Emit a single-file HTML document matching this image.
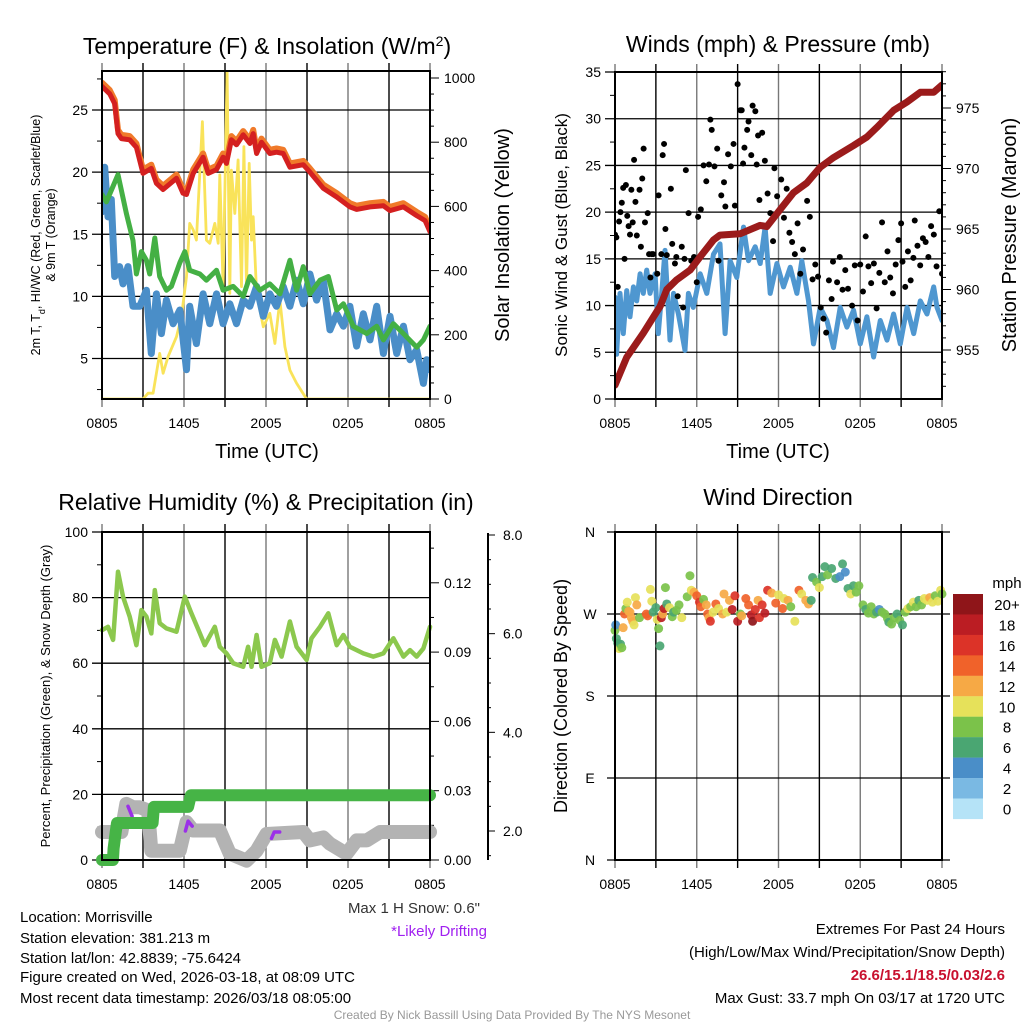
<!DOCTYPE html>
<html><head><meta charset="utf-8">
<style>
html,body{margin:0;padding:0;background:#fff;}
svg{display:block;font-family:"Liberation Sans",Arial,sans-serif;}
</style></head>
<body>
<svg id="c" width="1024" height="1024" viewBox="0 0 1024 1024" xmlns="http://www.w3.org/2000/svg">
<text x="267" y="54" font-size="23" text-anchor="middle">Temperature (F) &amp; Insolation (W/m<tspan baseline-shift="super" font-size="14">2</tspan>)</text>
<text x="778" y="52" font-size="23" text-anchor="middle">Winds (mph) &amp; Pressure (mb)</text>
<text x="266" y="510" font-size="23" text-anchor="middle">Relative Humidity (%) &amp; Precipitation (in)</text>
<text x="778" y="505" font-size="23" text-anchor="middle">Wind Direction</text>

<text transform="translate(40,235) rotate(-90)" font-size="12.5" text-anchor="middle">2m T, T<tspan baseline-shift="sub" font-size="9">d</tspan>, HI/WC (Red, Green, Scarlet/Blue)</text>
<text transform="translate(55,235) rotate(-90)" font-size="12.5" text-anchor="middle">&amp; 9m T (Orange)</text>
<text transform="translate(509,235) rotate(-90)" font-size="20" text-anchor="middle">Solar Insolation (Yellow)</text>
<text x="267" y="458" font-size="20" text-anchor="middle">Time (UTC)</text>

<text transform="translate(567,235) rotate(-90)" font-size="17" text-anchor="middle">Sonic Wind &amp; Gust (Blue, Black)</text>
<text transform="translate(1016,235) rotate(-90)" font-size="20" text-anchor="middle">Station Pressure (Maroon)</text>
<text x="778" y="458" font-size="20" text-anchor="middle">Time (UTC)</text>

<text transform="translate(50,696) rotate(-90)" font-size="13" text-anchor="middle">Percent, Precipitation (Green), &amp; Snow Depth (Gray)</text>
<text x="480" y="913" font-size="15" text-anchor="end" fill="#333">Max 1 H Snow: 0.6"</text>
<text x="487" y="936" font-size="15" text-anchor="end" fill="#a020f0">*Likely Drifting</text>

<text transform="translate(567,696) rotate(-90)" font-size="18" text-anchor="middle">Direction (Colored By Speed)</text>
<text x="1007" y="588" font-size="15" text-anchor="middle">mph</text>

<g font-size="15">
<text x="20" y="922">Location: Morrisville</text>
<text x="20" y="943">Station elevation: 381.213 m</text>
<text x="20" y="963">Station lat/lon: 42.8839; -75.6424</text>
<text x="20" y="982">Figure created on Wed, 2026-03-18, at 08:09 UTC</text>
<text x="20" y="1003">Most recent data timestamp: 2026/03/18 08:05:00</text>
</g>
<g font-size="15" text-anchor="end">
<text x="1005" y="934">Extremes For Past 24 Hours</text>
<text x="1005" y="957">(High/Low/Max Wind/Precipitation/Snow Depth)</text>
<text x="1005" y="980" fill="#c8102e" font-weight="bold">26.6/15.1/18.5/0.03/2.6</text>
<text x="1005" y="1003">Max Gust: 33.7 mph On 03/17 at 1720 UTC</text>
</g>
<text x="512" y="1019" font-size="12" fill="#999" text-anchor="middle">Created By Nick Bassill Using Data Provided By The NYS Mesonet</text>
</svg>
<script>
// ---------- DATA ----------
const xTickLabels = ["0805","1405","2005","0205","0805"];
const tempHours = [0,0.56,0.93,1.17,1.42,2.03,2.52,3.0,3.61,3.98,4.47,5.45,5.93,6.18,6.67,7.4,7.77,8.38,8.86,9.11,9.47,9.84,10.33,10.82,11.06,11.31,11.67,12.28,12.77,13.26,13.75,14.73,15.21,16.19,17.17,18.14,18.63,19.61,20.59,21.07,22.05,23.03,23.64,24];
const tempValues = [26.9,26.3,25.5,23.1,22.7,22.6,22.0,19.9,20.3,19.1,18.6,19.5,18.3,18.2,19.9,21.2,19.9,20.2,21.2,20.7,22.6,22.2,23.0,22.3,23.1,21.5,22.4,21.5,21.6,21.5,20.4,20.6,20.0,18.7,18.0,17.2,17.0,17.2,17.3,16.9,17.2,16.5,16.1,15.2];
const temp9mValues = [27.2,26.6,25.8,23.4,23.0,22.9,22.3,20.2,20.6,19.4,18.9,19.8,18.6,18.5,20.2,21.5,20.2,20.5,21.5,21.0,22.9,22.5,23.3,22.6,23.4,21.8,22.7,21.8,21.9,21.8,20.7,20.9,20.3,19.0,18.3,17.5,17.3,17.5,17.6,17.2,17.5,16.8,16.4,15.4];
const dewHours = [0,0.32,1.17,1.78,2.27,2.52,2.88,3.25,3.49,3.86,4.22,4.71,5.08,5.69,6.06,6.42,7.16,7.64,8.38,8.86,9.6,10.33,10.82,11.55,12.28,13.02,13.75,14.24,14.73,15.21,15.95,16.56,17.17,17.66,18.39,19.37,20.1,20.59,21.32,22.05,23.03,23.52,24];
const dewValues = [18.2,17.6,19.8,16.7,14.5,11.8,13.6,12.9,11.8,14.7,11.6,10.5,10.8,12.7,13.6,12.1,11.8,11.3,12.1,10.5,10.8,10.0,11.6,10.5,11.0,10.2,12.9,10.5,12.4,10.2,11.3,11.6,8.9,9.4,7.6,7.0,7.6,6.5,7.8,7.0,5.9,6.5,7.6];
const hiHours = [0,0.2,0.44,0.68,0.93,1.29,1.54,1.9,2.27,2.76,3.25,3.61,3.98,4.35,4.71,5.2,5.69,6.18,6.42,6.91,7.4,7.89,8.38,8.86,9.35,9.84,10.33,10.82,11.31,11.8,12.28,12.77,13.26,13.75,14.24,14.73,15.21,15.7,16.19,16.68,17.17,17.66,18.14,18.63,19.12,19.61,20.1,20.59,21.07,21.56,22.05,22.54,23.03,23.52,23.76,24];
const hiValues = [16.8,20.4,16.4,17.8,11.6,12.4,11.0,12.4,9.2,9.2,10.5,5.4,10.2,7.0,9.7,7.8,8.9,4.1,9.2,6.2,10.2,7.8,10.2,7.8,9.4,7.8,9.7,9.2,10.8,8.4,10.2,9.2,10.8,9.2,11.3,9.4,11.8,9.7,11.3,7.3,8.6,7.6,9.2,6.0,8.6,6.5,9.2,5.4,8.4,5.4,7.6,4.9,5.7,3.0,4.9,4.1];
const solarHours = [0,3.0,3.37,3.74,4.22,4.47,4.84,5.45,5.81,6.18,6.42,6.67,6.91,7.35,7.64,7.89,8.25,8.5,8.62,8.86,9.15,9.35,9.47,9.72,9.96,10.21,10.38,10.57,10.77,10.94,11.06,11.31,11.8,12.28,12.65,13.02,13.38,13.75,14.24,14.97,24];
const solarValues = [0,0,18,18,142,80,132,194,256,381,547,527,495,864,495,485,547,485,698,350,1020,329,713,578,745,350,786,350,734,495,568,329,225,267,173,308,163,90,49,0,0];
const windHours = [0,0.12,0.37,0.61,0.86,1.1,1.35,1.59,1.84,2.08,2.33,2.57,2.94,3.18,3.43,3.67,4.04,4.29,4.65,5.14,5.39,5.75,6.25,6.74,7.23,7.71,8.08,8.45,8.94,9.43,9.8,10.29,10.66,11.02,11.39,11.88,12.37,12.86,13.35,13.71,14.2,14.57,15.06,15.55,16.04,16.53,17.02,17.51,18.0,18.49,18.98,19.47,19.96,20.45,20.94,21.43,21.92,22.41,22.9,23.39,23.63,24];
const windValues = [10.9,4.8,11.3,7,11.6,8.8,12,10.5,13.4,11.3,13.8,11.3,13.4,7,11.3,15.9,6.3,11.3,9.1,5.2,11.3,9.8,13.4,11.3,15.5,16.6,7,14.8,13,18.4,14.8,16.3,14.5,18.4,11.3,14.5,12,14.1,11.3,14.8,10.5,5.9,9.8,8.4,5.5,9.8,7.7,9.5,5.9,8.8,4.5,8.4,6.3,9.1,5.9,9.8,7,10.5,9.1,12,9.8,8.4];
const gustHours = [0,0.1,0.2,0.3,0.4,0.5,0.6,0.7,0.8,0.9,1.0,1.1,1.2,1.3,1.4,1.5,1.6,1.8,1.9,2.0,2.1,2.2,2.4,2.5,2.6,2.7,2.8,3.1,3.2,3.4,3.5,3.6,3.7,3.8,4.1,4.2,4.4,4.5,4.6,4.9,5.0,5.1,5.2,5.4,5.6,5.8,6.0,6.1,6.3,6.5,6.7,6.9,7.0,7.1,7.3,7.5,7.6,7.8,8.0,8.1,8.3,8.5,8.7,8.8,9.0,9.2,9.3,9.4,9.5,9.7,9.8,10.0,10.1,10.3,10.4,10.5,10.6,10.8,11.0,11.2,11.4,11.6,11.7,11.9,12.2,12.4,12.6,12.8,13.0,13.2,13.4,13.6,13.8,14.1,14.3,14.5,14.7,14.9,15.1,15.3,15.5,15.7,15.9,16.0,16.3,16.5,16.7,16.9,17.1,17.4,17.6,17.8,18.0,18.2,18.4,18.6,18.8,19.0,19.2,19.4,19.6,19.8,20.0,20.2,20.4,20.6,20.8,21.0,21.1,21.3,21.5,21.7,21.9,22.0,22.2,22.4,22.6,22.8,23.0,23.2,23.4,23.6,23.8,24];
const gustValues = [17.6,17.3,12,19,20,21,22.6,15,22.9,19.6,18.5,17.6,22.4,18.9,25.6,21.1,17.5,22.4,16.3,23.6,26.8,18.9,19.9,15.5,13,15.5,15.5,13.4,21.8,15.5,26.1,27.3,18.2,15.4,22.5,16.6,14.5,15.2,11,16.3,9.8,15,24.5,19.9,14.8,15.2,12.5,19.5,20.3,25,23.3,25.1,29.9,28.8,24.9,26.8,14.8,21.8,23.2,20.6,26.2,24.9,27.3,20.7,33.7,30.9,30.9,25.2,26.9,28.8,29.7,26.1,31.4,30.8,25.1,28.2,21.3,28.5,25.5,22,19.9,16.9,24.7,21.7,23.5,19.4,22.5,17.8,16.8,15.5,18.8,13.4,16,21.2,19.5,12.8,14.4,13.1,9.8,8.6,7.1,12.7,10.7,14.7,12.5,15.2,11.7,13.8,11.8,10,14.3,8.4,14.4,11.5,17.4,14.2,12.4,14.5,9.7,13.5,18.9,12.5,15.8,13,11.3,14.4,17,18.8,14.7,12,15.8,12.7,15.1,19.1,16.4,14.3,17.2,16.8,15.2,18.5,17.6,14.2,20.1,13.4];
const presHours = [0,0.86,2.08,3.31,3.8,4.53,5.51,6.25,7.23,7.71,9.18,10.65,11.14,12.12,13.1,14.08,15.06,16.04,17.51,18.49,19.22,20.45,21.43,22.41,23.39,24];
const presValues = [952.1,954.4,956.4,958.6,960,960.8,961.6,962.7,964.1,964.5,964.6,965.3,965.2,966.6,968,968.8,970.1,970.9,971.9,972.6,973.4,974.8,975.5,976.3,976.3,976.9];
const rhHours = [0,0.44,0.81,1.17,1.54,2.03,2.52,2.88,3.25,3.61,3.86,4.22,4.71,5.45,6.06,6.54,7.16,7.52,8.25,8.62,9.11,9.6,10.33,10.69,10.94,11.31,11.67,12.28,12.65,13.14,13.75,14.24,14.97,15.33,15.95,16.56,17.17,17.66,18.14,19.12,19.85,20.59,21.32,22.05,22.54,23.03,23.52,24];
const rhValues = [70.1,71.1,67.1,87.9,80.3,74.2,65.5,76.2,74.2,69.1,82.3,72.2,70.6,69.6,80.3,75.2,69.1,65.5,71.1,65,63,60,58.9,65,58.9,68.6,58.9,60,67.1,62,72.7,65,61,67.6,71.1,75.2,65.5,68.6,65,63,62,63,67.6,62,64,62,64.5,71.1];
const precipHours = [0,0.8,0.85,1.0,1.1,3.7,3.8,6.3,6.5,24];
const precipValues = [0,0,0.005,0.012,0.016,0.016,0.023,0.023,0.028,0.028];
const snowHours = [0,1.42,1.78,2.27,2.76,3.37,3.61,3.98,5.69,6.18,6.67,8.62,9.35,10.57,11.31,12.04,14.73,15.21,16.19,16.68,17.9,18.63,19.37,20.35,24];
const snowValues = [1.98,1.98,2.55,2.48,2.48,2.42,1.6,1.6,1.6,2.18,2.01,2.01,1.54,1.4,1.6,1.94,1.98,1.81,1.87,1.74,1.54,1.81,1.81,1.98,1.98];
const driftSegments = [[[1.9,2.5],[2.2,2.3]],[[6.1,2.0],[6.3,2.2],[6.6,2.1]],[[12.4,1.85],[12.6,1.98],[13.0,1.98]]];
const dirHours = [0.0,0.05,0.1,0.2,0.3,0.4,0.5,0.6,0.7,0.8,0.9,1.0,1.1,1.2,1.3,1.4,1.5,1.6,1.8,2.3,2.4,2.6,2.7,2.8,3.0,3.1,3.2,3.3,3.4,3.5,3.6,3.7,3.8,4.0,4.2,4.3,4.5,4.7,4.9,5.3,5.5,5.6,5.8,6.0,6.2,6.3,6.5,6.7,6.8,6.9,7.0,7.2,7.4,7.6,7.9,8.0,8.2,8.4,8.6,8.8,9.0,9.2,9.3,9.6,9.8,10.0,10.1,10.3,10.5,10.6,10.8,11.0,11.2,11.5,11.8,12.0,12.3,12.4,12.7,12.9,13.2,13.5,13.7,14.0,14.2,14.4,14.5,14.8,15.0,15.2,15.4,15.6,15.9,16.2,16.5,16.7,16.9,17.1,17.3,17.5,17.7,17.9,18.2,18.4,18.6,18.8,19.0,19.2,19.4,19.6,19.8,20.0,20.1,20.3,20.5,20.7,20.9,21.1,21.3,21.5,21.7,21.9,22.1,22.3,22.5,22.7,22.9,23.1,23.3,23.5,23.7,23.9,24.0];
const dirValues = [252,258,243,238,232,237,233,255,270,276,283,273,272,266,262,258,288,280,266,270,268,297,284,272,277,264,254,235,266,270,276,299,281,277,267,272,274,280,266,289,312,296,294,290,283,278,286,280,270,266,262,272,281,276,270,292,272,285,275,290,262,270,268,287,280,269,262,275,285,266,280,271,296,293,282,291,276,287,285,278,262,296,292,285,281,285,310,305,299,311,322,313,320,309,311,325,316,298,292,301,294,301,280,275,271,278,270,272,275,272,270,265,261,259,266,270,263,258,272,276,278,283,278,285,280,287,285,288,283,290,284,296,292];
const dirSpeeds = [9,4,6,6,10,7,9,12,14,8,10,12,13,12,12,11,10,12,9,14,15,10,10,7,6,10,8,6,19,13,19,8,6,10,8,7,8,8,10,8,8,10,12,14,16,14,8,12,14,12,16,11,14,10,12,12,10,13,18,16,19,9,12,15,14,18,20,17,13,17,16,18,16,12,14,10,14,10,12,8,10,15,10,12,13,6,7,8,10,6,6,8,6,7,4,6,5,7,10,7,8,8,8,6,8,8,8,6,4,8,8,8,6,8,8,6,8,7,8,10,8,10,8,6,8,10,10,12,10,8,10,10,8];
const speedBins = ["20+","18","16","14","12","10","8","6","4","2","0"];
const binColors = ["#8f1519","#bb1d23","#dc3328","#f0622a","#f6a945","#e6e15a","#7bc24a","#4aa672","#4a8ec8","#7ab9e3","#b5e3f7"];

// ---------- HELPERS ----------
const NS="http://www.w3.org/2000/svg";
const svg=document.getElementById('c');
function mk(tag,attrs,parent){const e=document.createElementNS(NS,tag);for(const k in attrs)e.setAttribute(k,attrs[k]);(parent||svg).appendChild(e);return e;}
function txt(x,y,s,size,anchor,parent){const t=mk('text',{x:x,y:y,'font-size':size,'text-anchor':anchor},parent);t.textContent=s;return t;}
function lin(d0,d1,r0,r1){return v=>r0+(v-d0)/(d1-d0)*(r1-r0);}
function poly(xs,ys,sx,sy,stroke,w,parent){let d='';for(let i=0;i<xs.length;i++)d+=(i?'L':'M')+sx(xs[i]).toFixed(1)+','+sy(ys[i]).toFixed(1);return mk('path',{d:d,fill:'none',stroke:stroke,'stroke-width':w,'stroke-linejoin':'round','stroke-linecap':'round'},parent);}

function frame(L,T,R,B,name){
  const g=mk('g',{});
  
  
  const sx=lin(0,24,L,R);
  for(let i=0;i<=8;i++){const x=sx(i*3);mk('line',{x1:x,y1:T-8,x2:x,y2:B+8,stroke:i%2?'#000':'#777','stroke-width':1.4},g);}
  xTickLabels.forEach((s,i)=>{const t=txt(sx(i*6),B+29,s,14,'middle',g);
    
    });
  return {g,sx};
}
function border(L,T,R,B,g){mk('rect',{x:L,y:T,width:R-L,height:B-T,fill:'none',stroke:'#000','stroke-width':2},g);}

// ---------- PANEL 1 ----------
(function(){
  const L=102,T=71,R=430,B=399;
  const {g,sx}=frame(L,T,R,B,'temperature-panel');
  const sy=lin(5,25,358.5,110);
  const sw=lin(0,1000,399,78);
  for(let v=5;v<=25;v+=5){mk('line',{x1:L-10,y1:sy(v),x2:R,y2:sy(v),stroke:'#000','stroke-width':1.3},g);
    const t=txt(L-14,sy(v)+5,String(v),14,'end',g);
    
    }
  for(let v=2.5;v<28;v+=5)mk('line',{x1:L-5,y1:sy(v),x2:L,y2:sy(v),stroke:'#000'},g);
  for(let v=0;v<=1000;v+=50){mk('line',{x1:R,y1:sw(v),x2:R+(v%200?4:9),y2:sw(v),stroke:'#000'},g);
    if(v%200===0){const t=txt(R+14,sw(v)+5,String(v),14,'start',g);
    
    }}
  const clip=mk('clipPath',{id:'cp1'});mk('rect',{x:L,y:T,width:R-L,height:B-T},clip);
  const pg=mk('g',{'clip-path':'url(#cp1)'},g);
  const s1=poly(solarHours,solarValues,sx,sw,'#f9e35a',2.8,pg);
  
  
  const s2=poly(hiHours,hiValues,sx,sy,'#4a8ec8',7,pg);
  
  
  const s3=poly(dewHours,dewValues,sx,sy,'#44b044',5,pg);
  
  
  const s4=poly(tempHours,temp9mValues,sx,sy,'#f07a2a',6,pg);
  
  
  const s5=poly(tempHours,tempValues,sx,sy,'#d42020',5,pg);
  
  
  border(L,T,R,B,g);
})();

// ---------- PANEL 2 ----------
(function(){
  const L=615,T=72,R=942,B=399;
  const {g,sx}=frame(L,T,R,B,'winds-panel');
  const sy=lin(0,35,399,72);
  const sp=lin(955,975,350,108);
  for(let v=0;v<=35;v+=5){mk('line',{x1:L-10,y1:sy(v),x2:R,y2:sy(v),stroke:'#000','stroke-width':1.3},g);
    const t=txt(L-14,sy(v)+5,String(v),14,'end',g);
    
    }
  for(let v=2.5;v<35;v+=5)mk('line',{x1:L-5,y1:sy(v),x2:L,y2:sy(v),stroke:'#000'},g);
  for(let v=952;v<=978;v++){mk('line',{x1:R,y1:sp(v),x2:R+(v%5?4:9),y2:sp(v),stroke:'#000'},g);
    if(v%5===0){const t=txt(R+14,sp(v)+5,String(v),14,'start',g);
    
    }}
  const clip=mk('clipPath',{id:'cp2'});mk('rect',{x:L,y:T,width:R-L,height:B-T},clip);
  const pg=mk('g',{'clip-path':'url(#cp2)'},g);
  const w=poly(windHours,windValues,sx,sy,'#4f97d0',5,pg);
  
  
  gustHours.forEach((h,i)=>{const c=mk('circle',{cx:sx(h),cy:sy(gustValues[i]),r:3,fill:'#000'},pg);
    
    });
  const p=poly(presHours,presValues,sx,sp,'#9b1b1b',7,pg);
  
  
  border(L,T,R,B,g);
})();

// ---------- PANEL 3 ----------
(function(){
  const L=102,T=532,R=430,B=860;
  const {g,sx}=frame(L,T,R,B,'humidity-panel');
  const sy=lin(0,100,860,532);
  const spr=lin(0,0.03,860,790.7);
  const ss=lin(2,8,831,535);
  for(let v=0;v<=100;v+=20){mk('line',{x1:L-10,y1:sy(v),x2:R,y2:sy(v),stroke:'#000','stroke-width':1.3},g);
    const t=txt(L-14,sy(v)+5,String(v),14,'end',g);
    
    }
  for(let v=10;v<100;v+=20)mk('line',{x1:L-5,y1:sy(v),x2:L,y2:sy(v),stroke:'#000'},g);
  for(let k=0;k<=9;k++){const v=k*0.015;const y=spr(v);if(y<T)continue;
    mk('line',{x1:R,y1:y,x2:R+(k%2?4:9),y2:y,stroke:'#000'},g);
    if(k%2===0){const t=txt(R+14,y+5,v.toFixed(2),14,'start',g);
    
    }}
  mk('line',{x1:488,y1:533,x2:488,y2:860,stroke:'#000','stroke-width':2},g);
  for(let v=1.5;v<=8.01;v+=0.5){const y=ss(v);mk('line',{x1:488,y1:y,x2:488+(Math.abs(v%2)<0.01?7:3),y2:y,stroke:'#000'},g);
    if(Math.abs(v%2)<0.01){const t=txt(503,y+5,v.toFixed(1),14,'start',g);
    
    }}
  const clip=mk('clipPath',{id:'cp3'});mk('rect',{x:L-12,y:T,width:R-L+24,height:B-T+12},clip);
  const pg=mk('g',{'clip-path':'url(#cp3)'},g);
  const sn=poly(snowHours,snowValues,sx,ss,'#b3b3b3',14,pg);
  
  
  driftSegments.forEach(seg=>{const d=poly(seg.map(p=>p[0]),seg.map(p=>p[1]),sx,ss,'#9b30e8',3.5,pg);
    
    });
  const pr=poly(precipHours,precipValues,sx,spr,'#46b446',12,pg);
  
  
  const rh=poly(rhHours,rhValues,sx,sy,'#8cc84e',4.5,pg);
  
  
  border(L,T,R,B,g);
})();

// ---------- PANEL 4 ----------
(function(){
  const L=615,T=532,R=942,B=860;
  const {g,sx}=frame(L,T,R,B,'wind-direction-panel');
  const sy=lin(0,360,860,532);
  ["N","E","S","W","N"].forEach((s,i)=>{const y=sy(i*90);mk('line',{x1:L-8,y1:y,x2:R+8,y2:y,stroke:'#000','stroke-width':1.3},g);
    const t=txt(590,y+5,s,14,'middle',g);
    
    });
  function col(s){const idx=s>=20?0:10-Math.floor(s/2);return binColors[Math.max(0,Math.min(10,idx))];}
  dirHours.forEach((h,i)=>{const c=mk('circle',{cx:sx(h),cy:sy(dirValues[i]),r:4.5,fill:col(dirSpeeds[i]),'fill-opacity':0.92},g);
    
    });
  border(L,T,R,B,g);
  const cb=mk('g',{});
  
  
  speedBins.forEach((s,i)=>{const y=594+i*20.45;mk('rect',{x:953,y:y,width:30,height:20.6,fill:binColors[i]},cb);
    const t=txt(1007,y+16,s,15,'middle',cb);
    
    });
})();
</script>
</body></html>
